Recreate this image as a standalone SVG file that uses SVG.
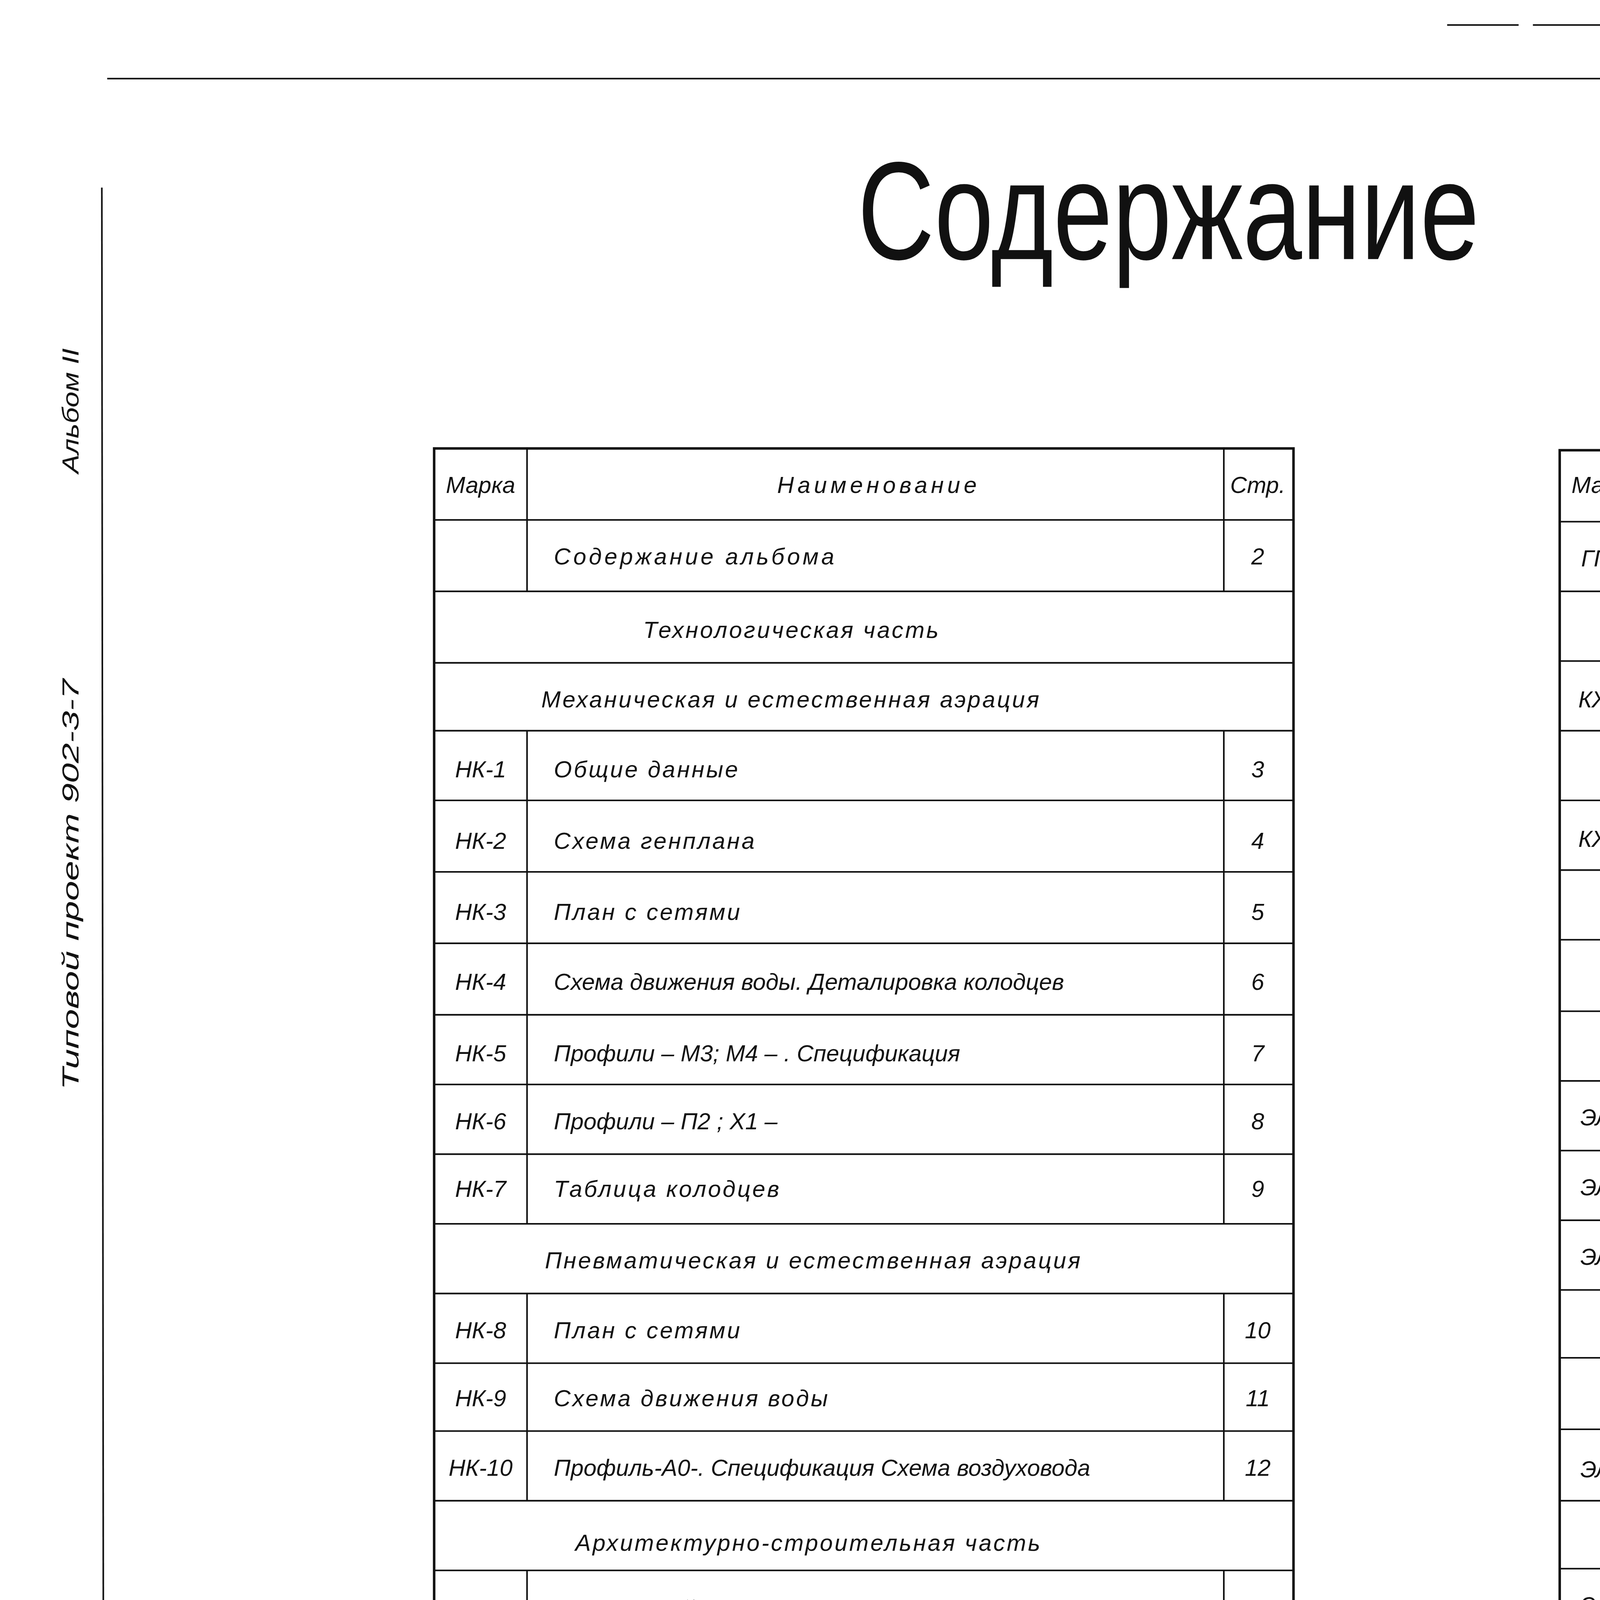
<svg xmlns="http://www.w3.org/2000/svg" width="7135" height="5002" viewBox="0 0 7135 5002">
<style>
.l{stroke:#111;stroke-width:0.9;fill:none}
.t{font-family:"Liberation Sans",sans-serif;font-style:italic;font-size:13px;fill:#111}
.c{text-anchor:middle}
</style>
<rect width="7135" height="5002" fill="#fff"/>
<g transform="scale(4.5737)">
<g id="frame" class="l">
<line x1="60" y1="44" x2="1535" y2="44"/>
<line x1="1533" y1="44" x2="1535" y2="1068"/>
<line x1="62" y1="1070" x2="1538" y2="1070"/>
<line x1="57" y1="105" x2="58" y2="1070"/>
<line x1="810" y1="14" x2="1500" y2="14" stroke-dasharray="40 8"/>
<line x1="1515" y1="12" x2="1515" y2="35"/>
<line x1="1515" y1="35" x2="1550" y2="35"/>
<line x1="1548" y1="5" x2="1548" y2="40"/>
</g>
<text x="1525" y="32" class="t" font-size="12">2</text>
<g id="title">
<text x="480" y="145" font-family="Liberation Sans,sans-serif" font-size="78" fill="#111" textLength="348" lengthAdjust="spacingAndGlyphs">Содержание</text>
<text x="985" y="145" font-family="Liberation Sans,sans-serif" font-size="58" fill="#111" textLength="220" lengthAdjust="spacingAndGlyphs">АЛЬБОМА</text>
</g>
<g id="side">
<text transform="translate(44,610) rotate(-90)" class="t" font-style="normal" font-size="15" textLength="230" lengthAdjust="spacingAndGlyphs">Типовой проект 902-3-7</text>
<text transform="translate(44,265) rotate(-90)" class="t" font-style="normal" font-size="15" textLength="70" lengthAdjust="spacingAndGlyphs">Альбом II</text>
</g>
<text x="1345" y="1082" class="t" font-size="15">16956-01  3</text>
<g id="table-left">
<g class="l">
<rect x="243" y="251" width="481" height="666" stroke-width="1.4"/>
<line x1="243" y1="291" x2="724" y2="291"/><line x1="243" y1="331" x2="724" y2="331"/><line x1="243" y1="371" x2="724" y2="371"/><line x1="243" y1="409" x2="724" y2="409"/><line x1="243" y1="448" x2="724" y2="448"/><line x1="243" y1="488" x2="724" y2="488"/><line x1="243" y1="528" x2="724" y2="528"/><line x1="243" y1="568" x2="724" y2="568"/><line x1="243" y1="607" x2="724" y2="607"/><line x1="243" y1="646" x2="724" y2="646"/><line x1="243" y1="685" x2="724" y2="685"/><line x1="243" y1="724" x2="724" y2="724"/><line x1="243" y1="763" x2="724" y2="763"/><line x1="243" y1="801" x2="724" y2="801"/><line x1="243" y1="840" x2="724" y2="840"/><line x1="243" y1="879" x2="724" y2="879"/>
<line x1="295" y1="251" x2="295" y2="331"/><line x1="685" y1="251" x2="685" y2="331"/>
<line x1="295" y1="409" x2="295" y2="685"/><line x1="685" y1="409" x2="685" y2="685"/>
<line x1="295" y1="724" x2="295" y2="840"/><line x1="685" y1="724" x2="685" y2="840"/>
<line x1="295" y1="879" x2="295" y2="917"/><line x1="685" y1="879" x2="685" y2="917"/>
</g>
<text x="269" y="276" class="t c" font-size="12">Марка</text>
<text x="435" y="276" class="t" font-size="13" letter-spacing="2">Наименование</text>
<text x="704" y="276" class="t c" font-size="12">Стр.</text>
<text x="310" y="316" class="t" font-size="15" letter-spacing="1.5">Содержание   альбома</text><text x="704" y="316" class="t c" font-size="14">2</text>
<text x="360" y="357" class="t" font-size="15" letter-spacing="1">Технологическая   часть</text>
<text x="303" y="396" class="t" font-size="14" letter-spacing="1">Механическая  и  естественная  аэрация</text>
<text x="269" y="435" class="t c" font-size="14">НК-1</text><text x="310" y="435" class="t" font-size="14" letter-spacing="1">Общие  данные</text><text x="704" y="435" class="t c" font-size="14">3</text>
<text x="269" y="475" class="t c" font-size="14">НК-2</text><text x="310" y="475" class="t" font-size="14" letter-spacing="1">Схема  генплана</text><text x="704" y="475" class="t c" font-size="14">4</text>
<text x="269" y="515" class="t c" font-size="14">НК-3</text><text x="310" y="515" class="t" font-size="14" letter-spacing="1">План  с  сетями</text><text x="704" y="515" class="t c" font-size="14">5</text>
<text x="269" y="554" class="t c" font-size="14">НК-4</text><text x="310" y="554" class="t" font-size="13">Схема  движения  воды. Деталировка  колодцев</text><text x="704" y="554" class="t c" font-size="14">6</text>
<text x="269" y="594" class="t c" font-size="14">НК-5</text><text x="310" y="594" class="t" font-size="13">Профили – М3; М4 – .    Спецификация</text><text x="704" y="594" class="t c" font-size="14">7</text>
<text x="269" y="632" class="t c" font-size="14">НК-6</text><text x="310" y="632" class="t" font-size="14">Профили  – П2 ; Х1 –</text><text x="704" y="632" class="t c" font-size="14">8</text>
<text x="269" y="670" class="t c" font-size="14">НК-7</text><text x="310" y="670" class="t" font-size="14" letter-spacing="1">Таблица   колодцев</text><text x="704" y="670" class="t c" font-size="14">9</text>
<text x="305" y="710" class="t" font-size="14" letter-spacing="1">Пневматическая  и  естественная  аэрация</text>
<text x="269" y="749" class="t c" font-size="14">НК-8</text><text x="310" y="749" class="t" font-size="14" letter-spacing="1">План  с  сетями</text><text x="704" y="749" class="t c" font-size="13">10</text>
<text x="269" y="787" class="t c" font-size="14">НК-9</text><text x="310" y="787" class="t" font-size="14" letter-spacing="1">Схема  движения  воды</text><text x="704" y="787" class="t c" font-size="13">11</text>
<text x="269" y="826" class="t c" font-size="14">НК-10</text><text x="310" y="826" class="t" font-size="12">Профиль-А0-. Спецификация  Схема  воздуховода</text><text x="704" y="826" class="t c" font-size="13">12</text>
<text x="322" y="868" class="t" font-size="14" letter-spacing="1">Архитектурно-строительная  часть</text>
<text x="269" y="905" class="t c" font-size="14">ГП-1</text><text x="310" y="905" class="t" font-size="14" letter-spacing="1">Примерный   генплан</text><text x="704" y="905" class="t c" font-size="13">13</text>
</g>
<g id="table-right">
<g class="l">
<rect x="873" y="252" width="484" height="664" stroke-width="1.4"/>
<line x1="873" y1="292" x2="1357" y2="292"/><line x1="873" y1="331" x2="1357" y2="331"/><line x1="873" y1="370" x2="1357" y2="370"/><line x1="873" y1="409" x2="1357" y2="409"/><line x1="873" y1="448" x2="1357" y2="448"/><line x1="873" y1="487" x2="1357" y2="487"/><line x1="873" y1="526" x2="1357" y2="526"/><line x1="873" y1="566" x2="1357" y2="566"/><line x1="873" y1="605" x2="1357" y2="605"/><line x1="873" y1="644" x2="1357" y2="644"/><line x1="873" y1="683" x2="1357" y2="683"/><line x1="873" y1="722" x2="1357" y2="722"/><line x1="873" y1="760" x2="1357" y2="760"/><line x1="873" y1="800" x2="1357" y2="800"/><line x1="873" y1="840" x2="1357" y2="840"/><line x1="873" y1="878" x2="1357" y2="878"/>
<line x1="925" y1="252" x2="925" y2="331"/><line x1="1316" y1="252" x2="1316" y2="331"/>
<line x1="925" y1="370" x2="925" y2="526"/><line x1="1316" y1="370" x2="1316" y2="526"/>
<line x1="925" y1="605" x2="925" y2="916"/><line x1="1316" y1="605" x2="1316" y2="916"/>
</g>
<text x="899" y="276" class="t c" font-size="12">Марка</text>
<text x="1025" y="277" class="t" font-size="13" letter-spacing="2">Наименование</text>
<text x="1336" y="277" class="t c" font-size="12">Стр.</text>
<text x="899" y="317" class="t c" font-size="14">ГП-2</text><text x="940" y="317" class="t" font-size="14" letter-spacing="0.8">Раскладка  плит.  Разрез  1-1;  2-2;  3-3</text><text x="1336" y="317" class="t c" font-size="14">14</text>
<text x="963" y="356" class="t" font-size="14" letter-spacing="1">Конструкции  железобетонные</text>
<text x="899" y="396" class="t c" font-size="13">КЖ-1</text><text x="940" y="396" class="t" font-size="12.5">Водоперепускной  колодец  и  переход  к  нему</text><text x="1336" y="396" class="t c" font-size="14">15</text>
<text x="940" y="435" class="t" font-size="13" letter-spacing="1">Камера  напуска  и  лоток</text>
<text x="899" y="474" class="t c" font-size="13">КЖ-2</text><text x="940" y="474" class="t" font-size="12.5">Деревянная  перегородка. Опора  под  электрокабель</text><text x="1336" y="474" class="t c" font-size="14">16</text>
<text x="940" y="513" class="t" font-size="12.5">Узлы.  Закладные  и  соединительные  детали</text>
<text x="943" y="592" class="t" font-size="12.5" letter-spacing="0.5">Электротехническая    часть</text>
<text x="899" y="630" class="t c" font-size="13">ЭЛ-1</text><text x="943" y="630" class="t" font-size="13" letter-spacing="1">Общие  данные   (начало)</text><text x="1338" y="630" class="t c" font-size="14">17</text>
<text x="899" y="669" class="t c" font-size="13">ЭЛ-2</text><text x="943" y="669" class="t" font-size="13" letter-spacing="1">Общие  данные  (окончание)</text><text x="1338" y="669" class="t c" font-size="14">18</text>
<text x="899" y="708" class="t c" font-size="13">ЭЛ-3</text><text x="943" y="708" class="t" font-size="13">План  трассы  кабелей,  питающих  аэратор</text><text x="1338" y="708" class="t c" font-size="14">19</text>
<text x="943" y="747" class="t" font-size="12.5">Питание  электрооборудования</text>
<text x="943" y="786" class="t" font-size="12.5">Схема  принципиальная  электрическая</text>
<text x="899" y="827" class="t c" font-size="13">ЭЛ-4</text><text x="943" y="827" class="t" font-size="13.5">Установка  пускового  устройства  ЯБПВУ-1м.</text><text x="1340" y="827" class="t c" font-size="14">20</text>
<text x="943" y="864" class="t" font-size="13">План,  разрезы.   Спецификация</text>
<text x="899" y="903" class="t c" font-size="13">ЭЛ-5</text><text x="943" y="903" class="t" font-size="13">Наружное  освещение.  План.</text><text x="1340" y="903" class="t c" font-size="14">21</text>
</g>
</g>
</svg>
